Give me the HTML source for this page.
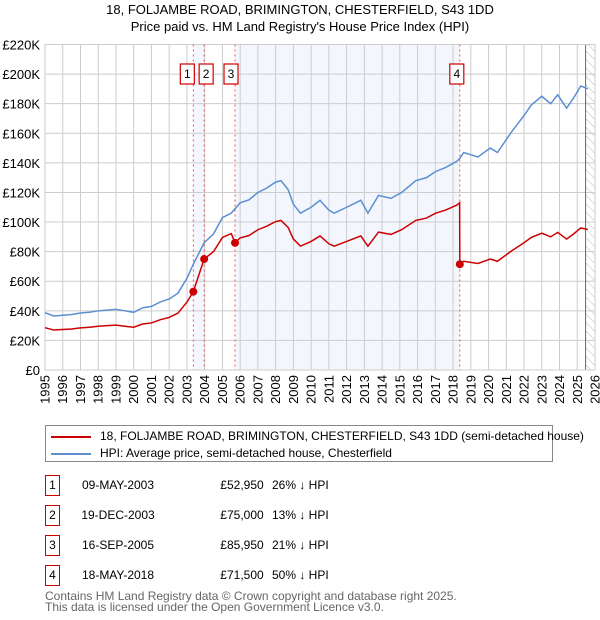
<!DOCTYPE html>
<html><head><meta charset="utf-8"><style>
body{margin:0;background:#fff;font-family:"Liberation Sans","DejaVu Sans",sans-serif;}
#wrap{position:relative;width:600px;height:620px;overflow:hidden;}
.t{position:absolute;font-size:12px;color:#000;white-space:nowrap;}
.box{position:absolute;width:15px;height:21px;border:1.5px solid #cc0000;box-sizing:border-box;font-size:12px;text-align:center;line-height:19px;}
</style></head><body>
<div id="wrap">
<div class="t" style="left:0;width:600px;text-align:center;top:2px;font-size:13px;">18, FOLJAMBE ROAD, BRIMINGTON, CHESTERFIELD, S43 1DD</div>
<div class="t" style="left:0;width:600px;text-align:center;top:19px;font-size:13px;">Price paid vs. HM Land Registry's House Price Index (HPI)</div>
<svg id="chart" width="600" height="420" style="position:absolute;left:0;top:0;" font-family="Liberation Sans, DejaVu Sans, sans-serif"></svg>
<div style="position:absolute;left:45px;top:425px;width:508px;height:37px;border:1px solid #888;box-sizing:border-box;">
<div style="position:absolute;left:5px;top:4px;"><span style="position:absolute;left:0;top:6px;width:40px;height:2px;background:#cc0000"></span><span class="t" style="left:49px;top:-1px;">18, FOLJAMBE ROAD, BRIMINGTON, CHESTERFIELD, S43 1DD (semi-detached house)</span></div>
<div style="position:absolute;left:5px;top:21px;"><span style="position:absolute;left:0;top:6px;width:40px;height:2px;background:#5b8fd0"></span><span class="t" style="left:49px;top:-1px;">HPI: Average price, semi-detached house, Chesterfield</span></div>
</div>
<div id="rows"></div>
<div class="t" style="left:45px;top:589px;color:#666;">Contains HM Land Registry data © Crown copyright and database right 2025.</div>
<div class="t" style="left:45px;top:600px;color:#666;">This data is licensed under the Open Government Licence v3.0.</div>
</div>
<script>
const years=[1995,1996,1997,1998,1999,2000,2001,2002,2003,2004,2005,2006,2007,2008,2009,2010,2011,2012,2013,2014,2015,2016,2017,2018,2019,2020,2021,2022,2023,2024,2025,2026];
const yTicks=[0,20,40,60,80,100,120,140,160,180,200,220];
const hpiT=[1995,1995.5,1996,1996.5,1997,1997.5,1998,1998.5,1999,1999.5,2000,2000.5,2001,2001.5,2002,2002.5,2003,2003.36,2003.97,2004.5,2005,2005.5,2005.71,2006,2006.5,2007,2007.5,2008,2008.3,2008.7,2009,2009.4,2010,2010.5,2011,2011.3,2012,2012.8,2013.2,2013.8,2014.5,2015.1,2015.9,2016.5,2017,2017.6,2018.2,2018.38,2018.6,2019.4,2020.1,2020.5,2021.3,2022,2022.4,2023,2023.5,2023.9,2024.4,2024.8,2025.2,2025.6];
const hpiV=[38.7,36.5,37,37.5,38.5,39,40,40.5,41,40,39,42,43,46,48,52,62,71.5,86,92,103,106,109,113,115,120,123,127,128,122,112,106,110,114.7,108,106,110,114.7,106,118,116,120,128,130,134,137,141,143,147,144,150,147,161,172,179,185,180,186,177,184,192,190];
const redT=[1995,1995.5,1996,1996.5,1997,1997.5,1998,1998.5,1999,1999.5,2000,2000.5,2001,2001.5,2002,2002.5,2003,2003.36,2003.97,2004.5,2005,2005.5,2005.71,2006,2006.5,2007,2007.5,2008,2008.3,2008.7,2009,2009.4,2010,2010.5,2011,2011.3,2012,2012.8,2013.2,2013.8,2014.5,2015.1,2015.9,2016.5,2017,2017.6,2018.2,2018.37,2018.38,2018.6,2019.4,2020.1,2020.5,2021.3,2022,2022.4,2023,2023.5,2023.9,2024.4,2024.8,2025.2,2025.6];
const redV=[28.6,27,27.4,27.7,28.5,28.9,29.6,30,30.3,29.6,28.9,31.1,31.8,34,35.5,38.5,45.9,52.95,75,80,89.6,92.2,85.95,89.3,90.9,94.8,97.2,100.3,101.1,96.4,88.5,83.7,86.9,90.6,85.3,83.7,86.9,90.6,83.7,93.2,91.6,94.8,101.1,102.7,105.9,108.2,111.4,113,71.5,73.5,72,75,73.5,80.5,86,89.5,92.5,90,93,88.5,92,96,95];
const saleLabels=["1","2","3","4"];
const saleT=[2003.36,2003.97,2005.71,2018.38];
const saleV=[52.95,75,85.95,71.5];
const saleDates=["09-MAY-2003","19-DEC-2003","16-SEP-2005","18-MAY-2018"];
const salePrices=["£52,950","£75,000","£85,950","£71,500"];
const saleHpi=["26% ↓ HPI","13% ↓ HPI","21% ↓ HPI","50% ↓ HPI"];
const dataEnd=2025.47;

const L=45,R=595,T=44.5,B=370;
const x=t=>L+(t-1995)/(2026-1995)*(R-L);
const y=v=>B-v/220*(B-T);
const svg=document.getElementById('chart');
const NS='http://www.w3.org/2000/svg';
function mk(tag,attrs,parent){const e=document.createElementNS(NS,tag);for(const k in attrs)e.setAttribute(k,attrs[k]);(parent||svg).appendChild(e);return e;}
let sh=mk('rect',{x:x(saleT[0]),y:T,width:x(saleT[1])-x(saleT[0]),height:B-T,fill:'#eef3fc',opacity:0.7});


sh=mk('rect',{x:x(saleT[2]),y:T,width:x(saleT[3])-x(saleT[2]),height:B-T,fill:'#eef3fc',opacity:0.7});


const defs=mk('defs',{});
const pat=mk('pattern',{id:'hatch',width:6,height:6,patternUnits:'userSpaceOnUse',patternTransform:'rotate(-45)'},defs);
mk('line',{x1:0,y1:0,x2:0,y2:6,stroke:'#bbb','stroke-width':1},pat);
let hz=mk('rect',{x:x(dataEnd),y:T,width:R-x(dataEnd),height:B-T,fill:'url(#hatch)'});


years.forEach((yr,i)=>{
  const gl=mk('line',{x1:x(yr),x2:x(yr),y1:T,y2:B,stroke:'#cccccc','stroke-width':1});
  
  
  const tx=mk('text',{x:0,y:0,'font-size':13,'text-anchor':'end',fill:'#000',transform:'translate('+(x(yr)+4.5)+',375) rotate(-90)'});
  tx.textContent=yr;
  
  
});
yTicks.forEach(v=>{
  const gl=mk('line',{x1:L,x2:R,y1:y(v),y2:y(v),stroke:'#cccccc','stroke-width':1});
  
  
  const tx=mk('text',{x:40,y:y(v)+5,'font-size':13,'text-anchor':'end',fill:'#000'});
  tx.textContent=v===0?'£0':'£'+v+'K';
  
  
});
let bl=mk('line',{x1:x(dataEnd),x2:x(dataEnd),y1:T,y2:B,stroke:'#666','stroke-width':1});


let fr=mk('rect',{x:L,y:T,width:R-L,height:B-T,fill:'none',stroke:'#cccccc'});


saleT.forEach((t,i)=>{
  const l=mk('line',{x1:x(t),x2:x(t),y1:T,y2:B,stroke:'#ee5555','stroke-width':1,'stroke-dasharray':'2,3'});
  
  
});
const hp=mk('polyline',{points:hpiT.map((t,i)=>x(t)+','+y(hpiV[i])).join(' '),fill:'none',stroke:'#5b8fd0','stroke-width':1.5});


const rp=mk('polyline',{points:redT.map((t,i)=>x(t)+','+y(redV[i])).join(' '),fill:'none',stroke:'#cc0000','stroke-width':1.5});


saleT.forEach((t,i)=>{
  const c=mk('circle',{cx:x(t),cy:y(saleV[i]),r:4,fill:'#cc0000'});
  
  
});
const boxOff=[-6,2,-4,-3];
saleT.forEach((t,i)=>{
  const cx=x(t)+boxOff[i];
  const g=mk('g',{});
  
  
  mk('rect',{x:cx-7,y:64,width:14,height:20,fill:'#fff',stroke:'#cc0000','stroke-width':1.2},g);
  const tx=mk('text',{x:cx,y:78,'font-size':12,'text-anchor':'middle',fill:'#000'},g);
  tx.textContent=saleLabels[i];
});
const rows=document.getElementById('rows');
const rowTops=[475,505,535,565];
saleLabels.forEach((lab,i)=>{
  const r=document.createElement('div');
  
  
  r.style.cssText='position:absolute;left:0;top:'+rowTops[i]+'px;width:600px;height:22px;';
  r.innerHTML='<div class="box" style="left:45px;top:0;">'+lab+'</div>'+
   '<div class="t" style="left:68px;width:100px;text-align:center;top:3px;">'+saleDates[i]+'</div>'+
   '<div class="t" style="left:207px;width:70px;text-align:center;top:3px;">'+salePrices[i]+'</div>'+
   '<div class="t" style="left:272px;top:3px;">'+saleHpi[i]+'</div>';
  rows.appendChild(r);
});
</script>
</body></html>
